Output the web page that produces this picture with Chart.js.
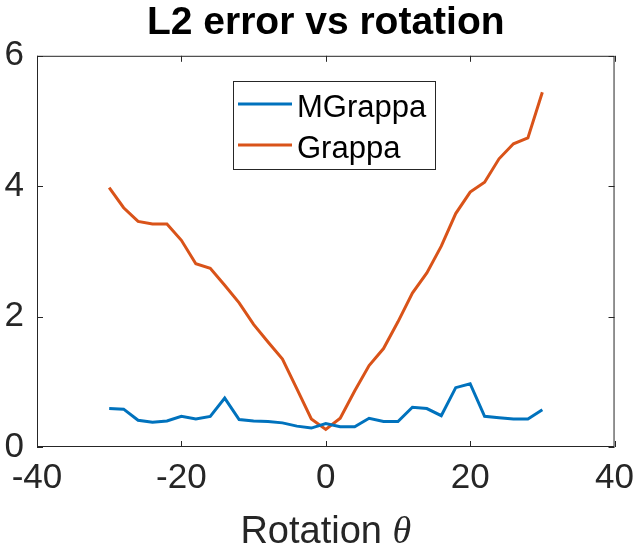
<!DOCTYPE html>
<html lang="en">
<head>
  <meta charset="UTF-8">
  <title>L2 error vs rotation</title>
  <script src="https://cdn.jsdelivr.net/npm/chart.js"></script>
  <style>
    html, body { margin: 0; padding: 0; background: #fff; }
    #wrap { width: 644px; height: 553px; }
  </style>
</head>
<body>
  <div id="wrap"><canvas id="grafico" width="644" height="553"></canvas></div>
  <script>
    const rotation = [-30, -28, -26, -24, -22, -20, -18, -16, -14, -12, -10, -8, -6, -4, -2, 0,
                      2, 4, 6, 8, 10, 12, 14, 16, 18, 20, 22, 24, 26, 28, 30];
    const mgrappa = [0.59, 0.58, 0.41, 0.38, 0.40, 0.47, 0.43, 0.47, 0.75, 0.42, 0.40, 0.39, 0.37, 0.32, 0.29, 0.36,
                     0.31, 0.31, 0.44, 0.39, 0.39, 0.61, 0.59, 0.48, 0.91, 0.97, 0.47, 0.45, 0.43, 0.43, 0.57];
    const grappa = [3.98, 3.67, 3.46, 3.42, 3.42, 3.17, 2.81, 2.74, 2.48, 2.21, 1.88, 1.61, 1.35, 0.89, 0.43, 0.27,
                    0.44, 0.86, 1.25, 1.51, 1.92, 2.36, 2.67, 3.08, 3.58, 3.91, 4.06, 4.42, 4.65, 4.74, 5.44];
    const seriesNames = ['MGrappa', 'Grappa'];
    const xTicks = [-40, -20, 0, 20, 40];
    const yTicks = [0, 2, 4, 6];

    const fam = "'Liberation Sans', Arial, sans-serif";
    const axisColor = '#262626';

    // caja completa + marcas hacia dentro, estilo matlab
    const cajaEjes = {
      id: 'cajaEjes',
      afterDraw(chart) {
        const { ctx, chartArea: a, scales: { x, y } } = chart;
        ctx.save();
        ctx.strokeStyle = axisColor;
        ctx.lineWidth = 1;
        ctx.strokeRect(a.left + 0.5, a.top + 0.5, a.right - a.left - 1, a.bottom - a.top - 1);
        ctx.beginPath();
        xTicks.forEach(v => {
          const px = Math.round(x.getPixelForValue(v)) + 0.5;
          ctx.moveTo(px, a.bottom); ctx.lineTo(px, a.bottom - 6);
          ctx.moveTo(px, a.top); ctx.lineTo(px, a.top + 6);
        });
        yTicks.forEach(v => {
          const py = Math.round(y.getPixelForValue(v)) + 0.5;
          ctx.moveTo(a.left, py); ctx.lineTo(a.left + 6, py);
          ctx.moveTo(a.right, py); ctx.lineTo(a.right - 6, py);
        });
        ctx.stroke();
        ctx.restore();
      }
    };

    // etiqueta del eje x con theta en cursiva
    const etiquetaX = {
      id: 'etiquetaX',
      afterDraw(chart) {
        const { ctx, chartArea: a } = chart;
        ctx.save();
        ctx.fillStyle = axisColor;
        ctx.textBaseline = 'alphabetic';
        const f1 = '38px ' + fam;
        const f2 = "italic 38px 'Liberation Serif', 'DejaVu Serif', serif";
        const t1 = 'Rotation ', t2 = 'θ';
        ctx.font = f1; const w1 = ctx.measureText(t1).width;
        ctx.font = f2; const w2 = ctx.measureText(t2).width;
        const x0 = (a.left + a.right) / 2 - (w1 + w2) / 2;
        ctx.font = f1; ctx.fillText(t1, x0, 543);
        ctx.font = f2; ctx.fillText(t2, x0 + w1, 543);
        ctx.restore();
      }
    };

    // leyenda con recuadro dentro del area
    const leyenda = {
      id: 'leyenda',
      afterDraw(chart) {
        const { ctx } = chart;
        ctx.save();
        ctx.fillStyle = '#fff';
        ctx.fillRect(233, 81, 203, 89);
        ctx.strokeStyle = axisColor;
        ctx.lineWidth = 1;
        ctx.strokeRect(233.5, 81.5, 202, 88);
        chart.data.datasets.forEach((ds, i) => {
          const yy = 104 + i * 41;
          ctx.strokeStyle = ds.borderColor;
          ctx.lineWidth = 3;
          ctx.beginPath(); ctx.moveTo(238, yy); ctx.lineTo(292, yy); ctx.stroke();
          ctx.fillStyle = '#000';
          ctx.font = '31px ' + fam;
          ctx.textBaseline = 'alphabetic';
          ctx.fillText(ds.label, 297, yy + 13);
        });
        ctx.restore();
      }
    };

    new Chart(document.getElementById('grafico'), {
      type: 'line',
      data: {
        datasets: [
          { label: seriesNames[0], data: rotation.map((r, i) => ({ x: r, y: mgrappa[i] })), borderColor: '#0072BD', borderWidth: 3, pointRadius: 0, tension: 0 },
          { label: seriesNames[1], data: rotation.map((r, i) => ({ x: r, y: grappa[i] })), borderColor: '#D95319', borderWidth: 3, pointRadius: 0, tension: 0 }
        ]
      },
      options: {
        responsive: false,
        animation: false,
        layout: { padding: { left: 0, right: 29, top: 0, bottom: 0 } },
        scales: {
          x: {
            type: 'linear', min: -40, max: 40,
            afterBuildTicks: s => { s.ticks = xTicks.map(v => ({ value: v })); },
            afterFit: s => { s.height = 106; },
            grid: { display: false, drawTicks: false },
            border: { display: false },
            ticks: { color: axisColor, font: { family: fam, size: 35 }, padding: 10, maxRotation: 0 }
          },
          y: {
            min: 0, max: 6,
            afterBuildTicks: s => { s.ticks = yTicks.map(v => ({ value: v })); },
            afterFit: s => { s.width = 37; },
            grid: { display: false, drawTicks: false },
            border: { display: false },
            ticks: { color: axisColor, font: { family: fam, size: 35 }, padding: 13 }
          }
        },
        plugins: {
          legend: { display: false },
          tooltip: { enabled: false },
          title: {
            display: true, fullSize: false, text: 'L2 error vs rotation', color: '#000',
            font: { family: fam, size: 39, weight: 'bold' },
            padding: { top: 0, bottom: 9 }
          }
        }
      },
      plugins: [cajaEjes, etiquetaX, leyenda]
    });
  </script>
</body>
</html>
